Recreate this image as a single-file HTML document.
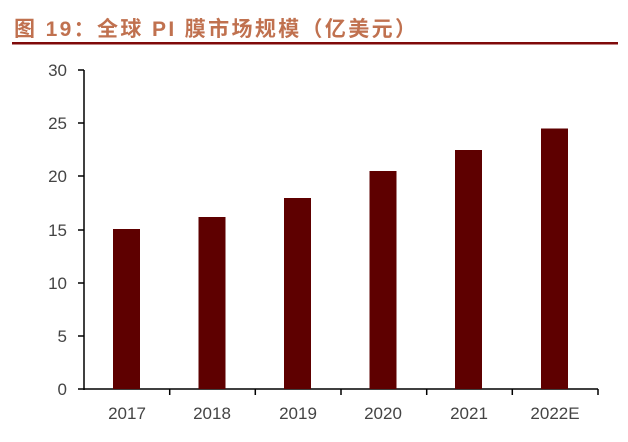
<!DOCTYPE html>
<html><head><meta charset="utf-8"><style>
body{margin:0;background:#fff;width:628px;height:437px;overflow:hidden}
</style></head><body>
<svg width="628" height="437" xmlns="http://www.w3.org/2000/svg">
<text x="14" y="36" font-family="Liberation Sans, Noto Sans CJK SC, sans-serif" font-size="21" font-weight="bold" fill="#c0714f" textLength="402" lengthAdjust="spacing">图 19：全球 PI 膜市场规模（亿美元）</text>
<rect x="12" y="42" width="606" height="2.5" fill="#7f0a0a"/>
<g font-family="Liberation Sans, sans-serif" font-size="17" fill="#444" text-anchor="end">
<text x="67" y="395">0</text><text x="67" y="342">5</text><text x="67" y="289">10</text>
<text x="67" y="236">15</text><text x="67" y="182">20</text><text x="67" y="129">25</text><text x="67" y="76">30</text>
</g>
<g stroke="#000" stroke-width="1.5">
<line x1="84" y1="70" x2="84" y2="390"/>
<line x1="78" y1="389" x2="598" y2="389"/>
<line x1="78" y1="70" x2="84" y2="70"/><line x1="78" y1="123" x2="84" y2="123"/>
<line x1="78" y1="176" x2="84" y2="176"/><line x1="78" y1="230" x2="84" y2="230"/>
<line x1="78" y1="283" x2="84" y2="283"/><line x1="78" y1="336" x2="84" y2="336"/>
<line x1="169.7" y1="389" x2="169.7" y2="395"/><line x1="255.3" y1="389" x2="255.3" y2="395"/>
<line x1="341" y1="389" x2="341" y2="395"/><line x1="426.7" y1="389" x2="426.7" y2="395"/>
<line x1="512.3" y1="389" x2="512.3" y2="395"/><line x1="598" y1="389" x2="598" y2="395"/>
</g>
<g fill="#5e0000">
<rect x="113" y="229" width="27" height="160"/>
<rect x="198.5" y="217" width="27" height="172"/>
<rect x="284" y="198" width="27" height="191"/>
<rect x="369.5" y="171" width="27" height="218"/>
<rect x="455" y="150" width="27" height="239"/>
<rect x="541" y="128.5" width="27" height="260.5"/>
</g>
<g font-family="Liberation Sans, sans-serif" font-size="17" fill="#444" text-anchor="middle">
<text x="127" y="419">2017</text><text x="212" y="419">2018</text><text x="298" y="419">2019</text>
<text x="383" y="419">2020</text><text x="469" y="419">2021</text><text x="555" y="419">2022E</text>
</g>
</svg>
</body></html>
